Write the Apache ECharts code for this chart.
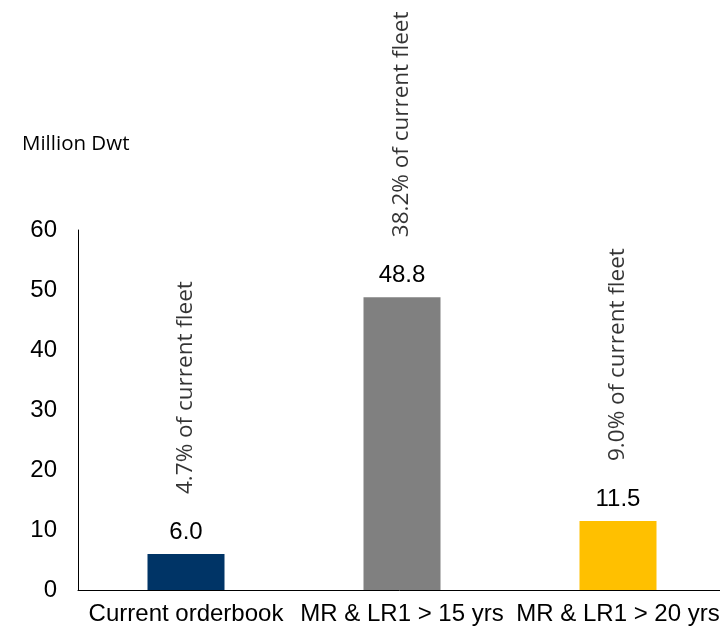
<!DOCTYPE html>
<html>
<head>
<meta charset="utf-8">
<script src="https://cdn.jsdelivr.net/npm/echarts@6/dist/echarts.min.js"></script>
<style>
html,body{margin:0;padding:0;background:#fff;}
#chart{width:720px;height:630px;}
</style>
</head>
<body>
<div id="chart"></div>
<script>
var categories = ['Current orderbook', 'MR & LR1 > 15 yrs', 'MR & LR1 > 20 yrs'];
var values = [6.0, 48.8, 11.5];
var shareOfFleet = ['4.7% of current fleet', '38.2% of current fleet', '9.0% of current fleet'];
var barColors = ['#003466', '#808080', '#FFC000'];
var yTicks = [0, 10, 20, 30, 40, 50, 60];

var chart = echarts.init(document.getElementById('chart'));
chart.setOption({
  animation: false,
  backgroundColor: '#ffffff',
  title: {
    text: 'Million Dwt',
    left: 17,
    top: 129,
    textStyle: { fontFamily: 'Open Sans', fontSize: 20.5, fontWeight: 'normal', color: '#000' }
  },
  grid: { left: 78, right: -6, top: 230, bottom: 40, containLabel: false, outerBoundsMode: 'none' },
  xAxis: {
    type: 'category',
    data: categories,
    axisLine: { lineStyle: { color: '#000', width: 1 } },
    axisTick: { show: false },
    axisLabel: { interval: 0, margin: 12, color: '#000', fontSize: 24, fontFamily: 'Liberation Sans', hideOverlap: false }
  },
  yAxis: {
    type: 'value',
    min: yTicks[0],
    max: yTicks[yTicks.length - 1],
    interval: 10,
    axisLine: { show: true, lineStyle: { color: '#000', width: 1 } },
    axisTick: { show: false },
    splitLine: { show: false },
    axisLabel: { margin: 21, color: '#000', fontSize: 24, fontFamily: 'Liberation Sans' }
  },
  series: [
    {
      type: 'bar',
      barWidth: 77,
      data: values.map(function (v, i) { return { value: v, itemStyle: { color: barColors[i] } }; }),
      label: {
        show: true,
        position: 'top',
        distance: 10,
        color: '#000',
        fontSize: 24,
        fontFamily: 'Liberation Sans',
        formatter: function (p) { return p.value.toFixed(1); }
      }
    },
    {
      type: 'scatter',
      symbolSize: 0,
      silent: true,
      data: values.map(function (v, i) { return { value: v, name: shareOfFleet[i] }; }),
      label: {
        show: true,
        position: 'top',
        distance: 58,
        rotate: 90,
        align: 'left',
        verticalAlign: 'middle',
        offset: [2, 0],
        color: '#000',
        fontSize: 22.5,
        fontFamily: 'Open Sans',
        formatter: function (p) { return shareOfFleet[p.dataIndex]; }
      }
    }
  ]
});
</script>
</body>
</html>
